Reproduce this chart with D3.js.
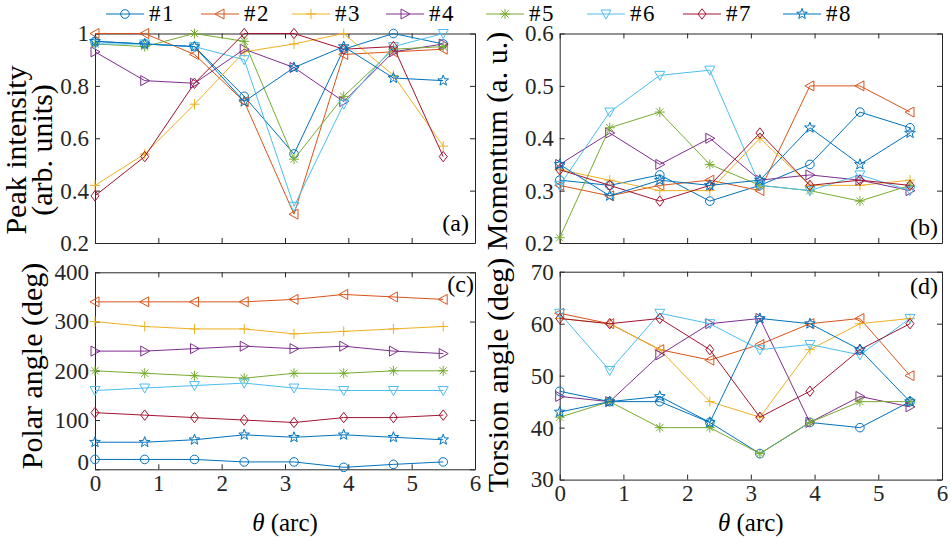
<!DOCTYPE html>
<html><head><meta charset="utf-8">
<script src="https://cdn.jsdelivr.net/npm/d3@7"></script>
<style>
body{margin:0;background:#fff}
svg{display:block}
</style>
</head><body>
<svg id="chart" width="951" height="538"></svg>
<script>
// ---------- data ----------
const thetas = [0, 0.785, 1.571, 2.356, 3.142, 3.927, 4.712, 5.498];
const seriesNames = ["#1", "#2", "#3", "#4", "#5", "#6", "#7", "#8"];
const seriesColors = ["#0072BD", "#D95319", "#EDB120", "#7E2F8E", "#77AC30", "#4DBEEE", "#A2142F", "#0072BD"];
const seriesMarkers = ["circle", "triangleLeft", "plus", "triangleRight", "asterisk", "triangleDown", "diamond", "pentagram"];

const peakIntensity = [
  [0.97, 0.96, 0.95, 0.76, 0.54, 0.94, 1.00, 0.96],
  [1.00, 1.00, 0.92, 0.74, 0.31, 0.92, 0.93, 0.94],
  [0.42, 0.54, 0.73, 0.93, 0.96, 1.00, 0.84, 0.57],
  [0.93, 0.82, 0.81, 0.94, 0.87, 0.74, 0.93, 0.96],
  [0.96, 0.95, 1.00, 0.97, 0.52, 0.76, 0.94, 0.95],
  [0.96, 0.96, 0.95, 0.90, 0.34, 0.73, 0.95, 1.00],
  [0.38, 0.53, 0.81, 1.00, 1.00, 0.94, 0.95, 0.53],
  [0.97, 0.96, 0.95, 0.74, 0.87, 0.95, 0.83, 0.82]
];
const momentum = [
  [0.32, 0.31, 0.33, 0.28, 0.31, 0.35, 0.45, 0.42],
  [0.31, 0.29, 0.31, 0.32, 0.30, 0.50, 0.50, 0.45],
  [0.34, 0.32, 0.30, 0.30, 0.40, 0.31, 0.31, 0.32],
  [0.35, 0.41, 0.35, 0.40, 0.32, 0.33, 0.32, 0.30],
  [0.21, 0.42, 0.45, 0.35, 0.31, 0.30, 0.28, 0.31],
  [0.31, 0.45, 0.52, 0.53, 0.31, 0.30, 0.33, 0.30],
  [0.34, 0.31, 0.28, 0.31, 0.41, 0.31, 0.32, 0.31],
  [0.35, 0.29, 0.32, 0.31, 0.32, 0.42, 0.35, 0.41]
];
const polarAngle = [
  [20, 20, 20, 15, 15, 4, 10, 15],
  [340, 340, 340, 340, 345, 355, 350, 345],
  [300, 290, 285, 285, 275, 280, 285, 290],
  [240, 240, 245, 250, 245, 250, 240, 235],
  [200, 195, 190, 185, 195, 195, 200, 200],
  [160, 165, 170, 175, 165, 160, 160, 160],
  [115, 110, 105, 100, 95, 105, 105, 110],
  [55, 55, 60, 70, 65, 70, 65, 60]
];
const torsionAngle = [
  [47, 45, 45, 41, 35, 41, 40, 45],
  [62, 60, 55, 53, 56, 60, 61, 50],
  [61, 60, 55, 45, 42, 55, 60, 61],
  [46, 45, 54, 60, 61, 41, 46, 44],
  [42, 45, 40, 40, 35, 41, 45, 45],
  [62, 51, 62, 60, 55, 56, 54, 61],
  [61, 60, 61, 55, 42, 47, 55, 60],
  [43, 45, 46, 41, 61, 60, 55, 45]
];

const xTicks = [0, 1, 2, 3, 4, 5, 6];
const peakTicks = [0.2, 0.4, 0.6, 0.8, 1];
const momentumTicks = [0.2, 0.3, 0.4, 0.5, 0.6];
const polarTicks = [0, 100, 200, 300, 400];
const torsionTicks = [30, 40, 50, 60, 70];

// ---------- layout ----------
const FONT = "Liberation Serif";
const svg = d3.select("#chart");
const axisColor = "#262626";

const panels = [
  {data: peakIntensity, ticks: peakTicks, dom: [0.2, 1], fmt: d3.format("~g"),
   left: 95, right: 475, top: 33.5, bottom: 243, showX: false,
   label: ["Peak intensity", "(arb. units)"], labelX: [26, 52], labelY: 150,
   tag: "(a)", tagX: 469, tagY: 231},
  {data: momentum, ticks: momentumTicks, dom: [0.2, 0.6], fmt: d3.format(".1f"),
   left: 559.7, right: 942, top: 33.5, bottom: 243, showX: false,
   label: ["Momentum (a. u.)"], labelX: [507], labelY: 141,
   tag: "(b)", tagX: 938, tagY: 235},
  {data: polarAngle, ticks: polarTicks, dom: [0, 400], fmt: d3.format("d"),
   left: 95, right: 475, top: 272.3, bottom: 469.3, showX: true,
   label: ["Polar angle (deg)"], labelX: [42], labelY: 366,
   tag: "(c)", tagX: 474, tagY: 292},
  {data: torsionAngle, ticks: torsionTicks, dom: [30, 70], fmt: d3.format("d"),
   left: 559.7, right: 942, top: 271.7, bottom: 479.6, showX: true,
   label: ["Torsion angle (deg)"], labelX: [508], labelY: 375,
   tag: "(d)", tagX: 938, tagY: 294}
];

function markerD(t) {
  switch (t) {
    case "circle": return "M4.3,0A4.3,4.3 0 1,1 -4.3,0A4.3,4.3 0 1,1 4.3,0Z";
    case "triangleLeft": return "M-5,0L4,-5L4,5Z";
    case "triangleRight": return "M5,0L-4,-5L-4,5Z";
    case "triangleDown": return "M0,5L-5,-4L5,-4Z";
    case "plus": return "M-5,0H5M0,-5V5";
    case "asterisk": return "M-5,0H5M0,-5V5M-3.6,-3.6L3.6,3.6M-3.6,3.6L3.6,-3.6";
    case "diamond": return "M0,-5.2L4,0L0,5.2L-4,0Z";
    case "pentagram": {
      const pts = [];
      for (let i = 0; i < 10; i++) {
        const r = i % 2 === 0 ? 5.6 : 2.3;
        const a = -Math.PI / 2 + i * Math.PI / 5;
        pts.push([r * Math.cos(a), r * Math.sin(a)]);
      }
      return "M" + pts.map(p => p[0].toFixed(2) + "," + p[1].toFixed(2)).join("L") + "Z";
    }
  }
}

panels.forEach(p => {
  const x = d3.scaleLinear().domain([0, 6]).range([p.left, p.right]);
  const y = d3.scaleLinear().domain(p.dom).range([p.bottom, p.top]);
  const g = svg.append("g");

  const styleAxis = sel => {
    sel.attr("font-family", FONT).attr("font-size", 23);
    sel.selectAll("path.domain").attr("stroke", axisColor).attr("stroke-width", 1).attr("fill", "none");
    sel.selectAll(".tick line").attr("stroke", axisColor).attr("stroke-width", 1);
    sel.selectAll("text").attr("fill", axisColor).attr("font-family", FONT).attr("font-size", 23);
  };

  // bottom
  const bx = d3.axisBottom(x).tickValues(xTicks).tickSize(-5).tickSizeOuter(0).tickPadding(5)
    .tickFormat(p.showX ? d3.format("d") : () => "");
  g.append("g").attr("transform", `translate(0,${p.bottom})`).call(bx).call(styleAxis);
  // top
  g.append("g").attr("transform", `translate(0,${p.top})`)
    .call(d3.axisTop(x).tickValues(xTicks).tickSize(-5).tickSizeOuter(0).tickFormat(() => ""))
    .call(styleAxis);
  // left
  const ly = g.append("g").attr("transform", `translate(${p.left},0)`)
    .call(d3.axisLeft(y).tickValues(p.ticks).tickSize(-5).tickSizeOuter(0).tickPadding(6).tickFormat(p.fmt))
    .call(styleAxis);
  if (p.dom[0] === 0) {
    ly.selectAll(".tick text").filter(d => d === 0).attr("y", -7);
  }
  // right
  g.append("g").attr("transform", `translate(${p.right},0)`)
    .call(d3.axisRight(y).tickValues(p.ticks).tickSize(-5).tickSizeOuter(0).tickFormat(() => ""))
    .call(styleAxis);

  // series
  const line = d3.line().x((d, i) => x(thetas[i])).y(d => y(d));
  p.data.forEach((vals, si) => {
    const c = seriesColors[si];
    g.append("path").attr("d", line(vals)).attr("fill", "none")
      .attr("stroke", c).attr("stroke-width", 1);
    g.selectAll(null).data(vals).enter().append("path")
      .attr("d", markerD(seriesMarkers[si]))
      .attr("transform", (d, i) => `translate(${x(thetas[i])},${y(d)})`)
      .attr("fill", "none").attr("stroke", c).attr("stroke-width", 1);
  });

  // y label
  p.label.forEach((t, li) => {
    svg.append("text")
      .attr("transform", `translate(${p.labelX[li]},${p.labelY}) rotate(-90)`)
      .attr("text-anchor", "middle")
      .attr("font-family", FONT).attr("font-size", 30).attr("fill", "#000")
      .text(t);
  });

  // x label
  if (p.showX) {
    const xl = svg.append("text")
      .attr("x", (p.left + p.right) / 2).attr("y", 531)
      .attr("text-anchor", "middle")
      .attr("font-family", FONT).attr("font-size", 25).attr("fill", "#000");
    xl.append("tspan").attr("font-style", "italic").text("θ");
    xl.append("tspan").text(" (arc)");
  }

  // panel tag
  svg.append("text").attr("x", p.tagX).attr("y", p.tagY)
    .attr("text-anchor", "end")
    .attr("font-family", FONT).attr("font-size", 24).attr("fill", "#000")
    .text(p.tag);
});

// ---------- legend ----------
const legendX = [125, 220, 311, 405, 505, 606, 702, 802];
const lg = svg.append("g");
seriesNames.forEach((name, i) => {
  const cx = legendX[i], cy = 14;
  lg.append("line").attr("x1", cx - 19).attr("x2", cx + 19).attr("y1", cy).attr("y2", cy)
    .attr("stroke", seriesColors[i]).attr("stroke-width", 1);
  lg.append("path").attr("d", markerD(seriesMarkers[i]))
    .attr("transform", `translate(${cx},${cy})`)
    .attr("fill", "none").attr("stroke", seriesColors[i]).attr("stroke-width", 1);
  lg.append("text").attr("x", cx + 24).attr("y", 21)
    .attr("font-family", FONT).attr("font-size", 23).attr("fill", "#000")
    .attr("letter-spacing", 1.5)
    .text(name);
});
</script>
</body></html>
